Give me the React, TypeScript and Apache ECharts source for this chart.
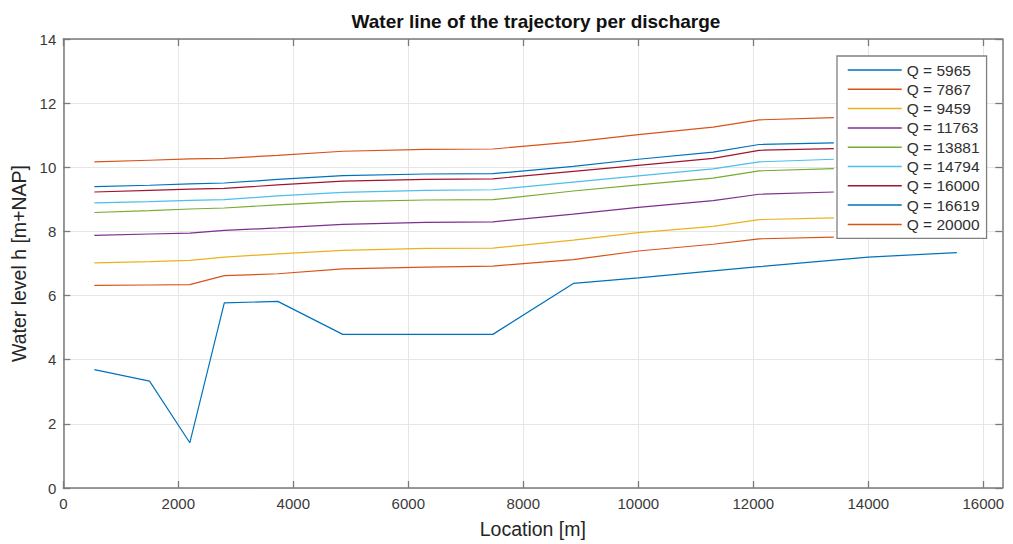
import React, { useEffect, useRef } from "react";
import * as echarts from "echarts";

// ---- data ----
const xTickValues = [0, 2000, 4000, 6000, 8000, 10000, 12000, 14000, 16000];
const yTickValues = [0, 2, 4, 6, 8, 10, 12, 14];

const locationsLow = [540, 1500, 2200, 2800, 3730, 4860, 6300, 7470, 8870, 10000, 11300, 12100, 14000, 15540];
const locations = [540, 1500, 2200, 2800, 3730, 4860, 6300, 7470, 8870, 10000, 11300, 12100, 13400];

const q5965 = [3.69, 3.33, 1.41, 5.77, 5.82, 4.79, 4.79, 4.79, 6.38, 6.55, 6.77, 6.9, 7.2, 7.34];
const q7867 = [6.32, 6.33, 6.34, 6.62, 6.68, 6.83, 6.89, 6.92, 7.12, 7.39, 7.6, 7.77, 7.82];
const q9459 = [7.02, 7.06, 7.1, 7.2, 7.3, 7.41, 7.47, 7.48, 7.73, 7.96, 8.16, 8.37, 8.42];
const q11763 = [7.88, 7.92, 7.95, 8.03, 8.11, 8.22, 8.28, 8.3, 8.54, 8.75, 8.96, 9.16, 9.23];
const q13881 = [8.59, 8.65, 8.7, 8.73, 8.83, 8.93, 8.98, 8.99, 9.26, 9.45, 9.66, 9.89, 9.96];
const q14794 = [8.89, 8.93, 8.97, 8.99, 9.11, 9.22, 9.28, 9.3, 9.54, 9.73, 9.95, 10.17, 10.25];
const q16000 = [9.23, 9.28, 9.32, 9.34, 9.45, 9.57, 9.62, 9.64, 9.87, 10.06, 10.28, 10.53, 10.58];
const q16619 = [9.4, 9.44, 9.48, 9.51, 9.62, 9.74, 9.79, 9.8, 10.03, 10.25, 10.47, 10.71, 10.76];
const q20000 = [10.17, 10.22, 10.26, 10.28, 10.37, 10.5, 10.56, 10.57, 10.79, 11.02, 11.25, 11.48, 11.55];

const seriesNames = [
  "Q = 5965",
  "Q = 7867",
  "Q = 9459",
  "Q = 11763",
  "Q = 13881",
  "Q = 14794",
  "Q = 16000",
  "Q = 16619",
  "Q = 20000",
];
const seriesValues = [q5965, q7867, q9459, q11763, q13881, q14794, q16000, q16619, q20000];
const seriesLocations = [locationsLow, locations, locations, locations, locations, locations, locations, locations, locations];
const colors = ["#0072BD", "#D95319", "#EDB120", "#7E2F8E", "#77AC30", "#4DBEEE", "#A2142F", "#0072BD", "#D95319"];

const titleText = "Water line of the trajectory per discharge";
const xName = "Location [m]";
const yName = "Water level h [m+NAP]";

const FONT = '"Liberation Sans", Arial, Helvetica, sans-serif';
const AXIS_COLOR = "#7a7a7a";
const LABEL_COLOR = "#3a3a3a";
const GRID_COLOR = "#e6e6e6";

export default function App() {
  const ref = useRef<HTMLDivElement>(null);

  useEffect(() => {
    if (!ref.current) return;
    const chart = echarts.init(ref.current, undefined, { renderer: "svg" });

    const axisLine = { show: true, onZero: false, lineStyle: { color: AXIS_COLOR, width: 1.5 } };
    const tickStyle = { color: AXIS_COLOR, width: 1.3 };

    const series = seriesNames.map((name, i) => ({
      name,
      type: "line",
      xAxisIndex: 0,
      yAxisIndex: 0,
      symbol: "none",
      showSymbol: false,
      color: colors[i],
      lineStyle: { color: colors[i], width: 1.2 },
      data: seriesLocations[i].map((x, j) => [x, seriesValues[i][j]]),
      z: 3,
    }));

    chart.setOption({
      animation: false,
      textStyle: { fontFamily: FONT },
      grid: { left: 63.3, top: 39, right: 10.7, bottom: 53.3, containLabel: false },
      graphic: [
        {
          type: "text",
          x: 536,
          y: 21.7,
          style: {
            text: titleText,
            font: `bold 19px ${FONT}`,
            fontSize: 19,
            fontWeight: "bold",
            fontFamily: FONT,
            fill: "#111",
            textAlign: "center",
            align: "center",
            textVerticalAlign: "middle",
            verticalAlign: "middle",
          },
        },
      ],
      legend: {
        orient: "vertical",
        left: 837,
        top: 56,
        padding: [6, 7, 6, 10],
        itemWidth: 54,
        itemHeight: 16,
        itemGap: 3.3,
        backgroundColor: "#ffffff",
        borderColor: "#808080",
        borderWidth: 1.3,
        borderRadius: 0,
        itemStyle: { opacity: 0 },
        lineStyle: { width: 1.5 },
        textStyle: { fontSize: 15.5, color: "#303030", fontFamily: FONT, lineHeight: 16 },
        data: seriesNames,
        z: 10,
      },
      xAxis: [
        {
          type: "value",
          position: "bottom",
          min: 0,
          max: 16330,
          interval: 2000,
          axisLine,
          axisTick: { show: true, inside: true, length: 7, customValues: xTickValues, lineStyle: tickStyle },
          axisLabel: {
            show: true,
            customValues: xTickValues,
            formatter: (v: number) => String(v),
            color: LABEL_COLOR,
            fontSize: 15,
            margin: 8,
            fontFamily: FONT,
          },
          splitLine: { show: true, lineStyle: { color: GRID_COLOR, width: 1 } },
          name: xName,
          nameLocation: "middle",
          nameGap: 41,
          nameTextStyle: { fontSize: 19.5, color: "#262626", verticalAlign: "middle", fontFamily: FONT },
        },
        {
          type: "value",
          position: "top",
          min: 0,
          max: 16330,
          interval: 2000,
          axisLine,
          axisTick: { show: true, inside: true, length: 7, customValues: xTickValues, lineStyle: tickStyle },
          axisLabel: { show: false },
          splitLine: { show: false },
        },
      ],
      yAxis: [
        {
          type: "value",
          position: "left",
          min: 0,
          max: 14,
          interval: 2,
          axisLine,
          axisTick: { show: true, inside: true, length: 7, customValues: yTickValues, lineStyle: tickStyle },
          axisLabel: {
            show: true,
            customValues: yTickValues,
            formatter: (v: number) => String(v),
            color: LABEL_COLOR,
            fontSize: 15,
            margin: 7,
            fontFamily: FONT,
          },
          splitLine: { show: true, lineStyle: { color: GRID_COLOR, width: 1 } },
          name: yName,
          nameLocation: "middle",
          nameGap: 43,
          nameTextStyle: { fontSize: 19.5, color: "#262626", verticalAlign: "middle", fontFamily: FONT },
        },
        {
          type: "value",
          position: "right",
          min: 0,
          max: 14,
          interval: 2,
          axisLine,
          axisTick: { show: true, inside: true, length: 7, customValues: yTickValues, lineStyle: tickStyle },
          axisLabel: { show: false },
          splitLine: { show: false },
        },
      ],
      series,
    });

    return () => {
      chart.dispose();
    };
  }, []);

  return (
    <div
      ref={ref}
      style={{ position: "fixed", left: 0, top: 0, width: 1013, height: 544, background: "#fff" }}
    />
  );
}
